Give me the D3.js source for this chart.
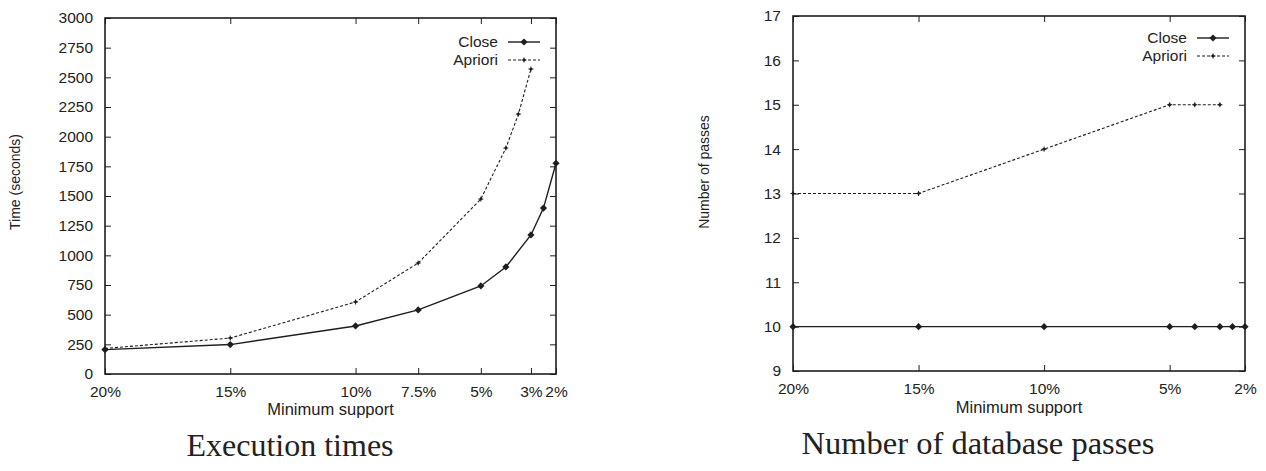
<!DOCTYPE html>
<html>
<head>
<meta charset="utf-8">
<script src="https://cdn.jsdelivr.net/npm/d3@7"></script>
<style>
  html, body { margin: 0; padding: 0; background: #fff; }
  svg { display: block; }
  text { font-family: "Liberation Sans", Arial, sans-serif; fill: #222; }
  .title { font-family: "Liberation Serif", "Times New Roman", serif; }
</style>
</head>
<body>
<svg id="chart" width="1266" height="471"></svg>
<script>
// ---------- data ----------
// Chart 1: Execution times (seconds) vs minimum support (%)
const timeCloseSupport   = [20, 15, 10, 7.5, 5, 4, 3, 2.5, 2];
const timeCloseValues    = [205, 248, 405, 540, 742, 902, 1172, 1398, 1776];
const timeAprioriSupport = [20, 15, 10, 7.5, 5, 4, 3.5, 3];
const timeAprioriValues  = [215, 303, 607, 935, 1474, 1904, 2190, 2570];
const timeXTicks = [20, 15, 10, 7.5, 5, 3, 2];
const timeXTickLabels = ["20%", "15%", "10%", "7.5%", "5%", "3%", "2%"];
const timeYTicks = [0, 250, 500, 750, 1000, 1250, 1500, 1750, 2000, 2250, 2500, 2750, 3000];

// Chart 2: Number of database passes vs minimum support (%)
const passCloseSupport   = [20, 15, 10, 5, 4, 3, 2.5, 2];
const passCloseValues    = [10, 10, 10, 10, 10, 10, 10, 10];
const passAprioriSupport = [20, 15, 10, 5, 4, 3];
const passAprioriValues  = [13, 13, 14, 15, 15, 15];
const passXTicks = [20, 15, 10, 5, 2];
const passXTickLabels = ["20%", "15%", "10%", "5%", "2%"];
const passYTicks = [9, 10, 11, 12, 13, 14, 15, 16, 17];

const seriesNames = ["Close", "Apriori"];
const titles = ["Execution times", "Number of database passes"];
const xLabel = "Minimum support";
const yLabels = ["Time (seconds)", "Number of passes"];

// ---------- drawing ----------
const svg = d3.select("#chart");
const INK = "#1e1e1e";

function drawPanel(cfg) {
  const x = d3.scaleLinear().domain([20, 2]).range([cfg.left, cfg.right]);
  const y = d3.scaleLinear().domain(cfg.yDomain).range([cfg.bottom, cfg.top]);
  const g = svg.append("g");
  const tickLen = 6;

  const xb = d3.axisBottom(x).tickValues(cfg.xTicks)
    .tickFormat((d, i) => cfg.xTickLabels[i]).tickSizeInner(-tickLen).tickSizeOuter(0).tickPadding(12);
  const gxb = g.append("g").attr("transform", `translate(0,${cfg.bottom})`).call(xb);
  const xt = d3.axisTop(x).tickValues(cfg.xTicks).tickFormat("").tickSizeInner(-tickLen).tickSizeOuter(0);
  const gxt = g.append("g").attr("transform", `translate(0,${cfg.top})`).call(xt);
  const yl = d3.axisLeft(y).tickValues(cfg.yTicks).tickFormat(d3.format("d"))
    .tickSizeInner(-tickLen).tickSizeOuter(0).tickPadding(12);
  const gyl = g.append("g").attr("transform", `translate(${cfg.left},0)`).call(yl);
  const yr = d3.axisRight(y).tickValues(cfg.yTicks).tickFormat("").tickSizeInner(-tickLen).tickSizeOuter(0);
  const gyr = g.append("g").attr("transform", `translate(${cfg.right},0)`).call(yr);

  [gxb, gxt, gyl, gyr].forEach(a => {
    a.select(".domain").remove();
    a.selectAll(".tick line").attr("stroke", INK).attr("stroke-width", 1);
    a.selectAll(".tick text").attr("fill", INK).style("font-size", "15.5px")
      .style("font-family", '"Liberation Sans", Arial, sans-serif');
  });
  gxb.selectAll(".tick text").attr("dy", "0.71em");

  g.append("rect").attr("x", cfg.left).attr("y", cfg.top)
    .attr("width", cfg.right - cfg.left).attr("height", cfg.bottom - cfg.top)
    .attr("fill", "none").attr("stroke", INK).attr("stroke-width", 1.6);

  const line = d3.line().x(d => x(d[0])).y(d => y(d[1]));
  const closeData = cfg.closeX.map((v, i) => [v, cfg.closeY[i]]);
  const aprData = cfg.aprX.map((v, i) => [v, cfg.aprY[i]]);

  g.append("path").datum(aprData).attr("d", line).attr("fill", "none")
    .attr("stroke", INK).attr("stroke-width", 1.1).attr("stroke-dasharray", "3,2");
  g.append("path").datum(closeData).attr("d", line).attr("fill", "none")
    .attr("stroke", INK).attr("stroke-width", 1.4);

  function closeMarker(sel) {
    sel.append("path").attr("d", "M0,-3.6L3.6,0L0,3.6L-3.6,0Z").attr("fill", INK);
  }
  function aprMarker(sel) {
    sel.append("path").attr("d", "M-2.5,0H2.5M0,-2.5V2.5").attr("stroke", INK).attr("stroke-width", 1);
    sel.append("circle").attr("r", 1.4).attr("fill", INK);
  }
  g.selectAll(".cm").data(closeData).join("g").attr("class", "cm")
    .attr("transform", d => `translate(${x(d[0])},${y(d[1])})`).call(closeMarker);
  g.selectAll(".am").data(aprData).join("g").attr("class", "am")
    .attr("transform", d => `translate(${x(d[0])},${y(d[1])})`).call(aprMarker);

  const lg = g.append("g");
  const rows = [{name: seriesNames[0], dash: null, m: closeMarker, w: 1.4},
                {name: seriesNames[1], dash: "3,2", m: aprMarker, w: 1.1}];
  rows.forEach((r, i) => {
    const yy = cfg.legY + i * 18;
    lg.append("text").attr("x", cfg.legTextX).attr("y", yy).attr("dy", "0.35em")
      .attr("text-anchor", "end").style("font-size", "15.5px").attr("fill", INK).text(r.name);
    lg.append("line").attr("x1", cfg.legLineX).attr("x2", cfg.legLineX + 32)
      .attr("y1", yy).attr("y2", yy).attr("stroke", INK).attr("stroke-width", r.w)
      .attr("stroke-dasharray", r.dash);
    lg.append("g").attr("transform", `translate(${cfg.legLineX + 16},${yy})`).call(r.m);
  });

  g.append("text").attr("x", (cfg.left + cfg.right) / 2).attr("y", cfg.xLabelY)
    .attr("text-anchor", "middle").style("font-size", "16.5px").attr("fill", INK).text(xLabel);
  g.append("text").attr("transform", `translate(${cfg.yLabelX},${cfg.yLabelY}) rotate(-90)`)
    .attr("text-anchor", "middle").style("font-size", "14px").attr("fill", INK).text(cfg.yLabel);
  g.append("text").attr("class", "title").attr("x", cfg.titleX).attr("y", cfg.titleY)
    .attr("text-anchor", "middle").style("font-size", cfg.titleSize).attr("fill", "#111").text(cfg.title);
}

drawPanel({
  left: 105, right: 556, top: 18, bottom: 374,
  yDomain: [0, 3000], xTicks: timeXTicks, xTickLabels: timeXTickLabels, yTicks: timeYTicks,
  closeX: timeCloseSupport, closeY: timeCloseValues, aprX: timeAprioriSupport, aprY: timeAprioriValues,
  legY: 42, legTextX: 498, legLineX: 508,
  xLabelY: 415, yLabelX: 20, yLabelY: 182, yLabel: yLabels[0],
  title: titles[0], titleX: 290, titleY: 456, titleSize: "32px"
});

drawPanel({
  left: 793, right: 1245, top: 16, bottom: 371,
  yDomain: [9, 17], xTicks: passXTicks, xTickLabels: passXTickLabels, yTicks: passYTicks,
  closeX: passCloseSupport, closeY: passCloseValues, aprX: passAprioriSupport, aprY: passAprioriValues,
  legY: 38, legTextX: 1187, legLineX: 1197,
  xLabelY: 413, yLabelX: 709, yLabelY: 172, yLabel: yLabels[1],
  title: titles[1], titleX: 978, titleY: 454, titleSize: "32.5px"
});
</script>
</body>
</html>
